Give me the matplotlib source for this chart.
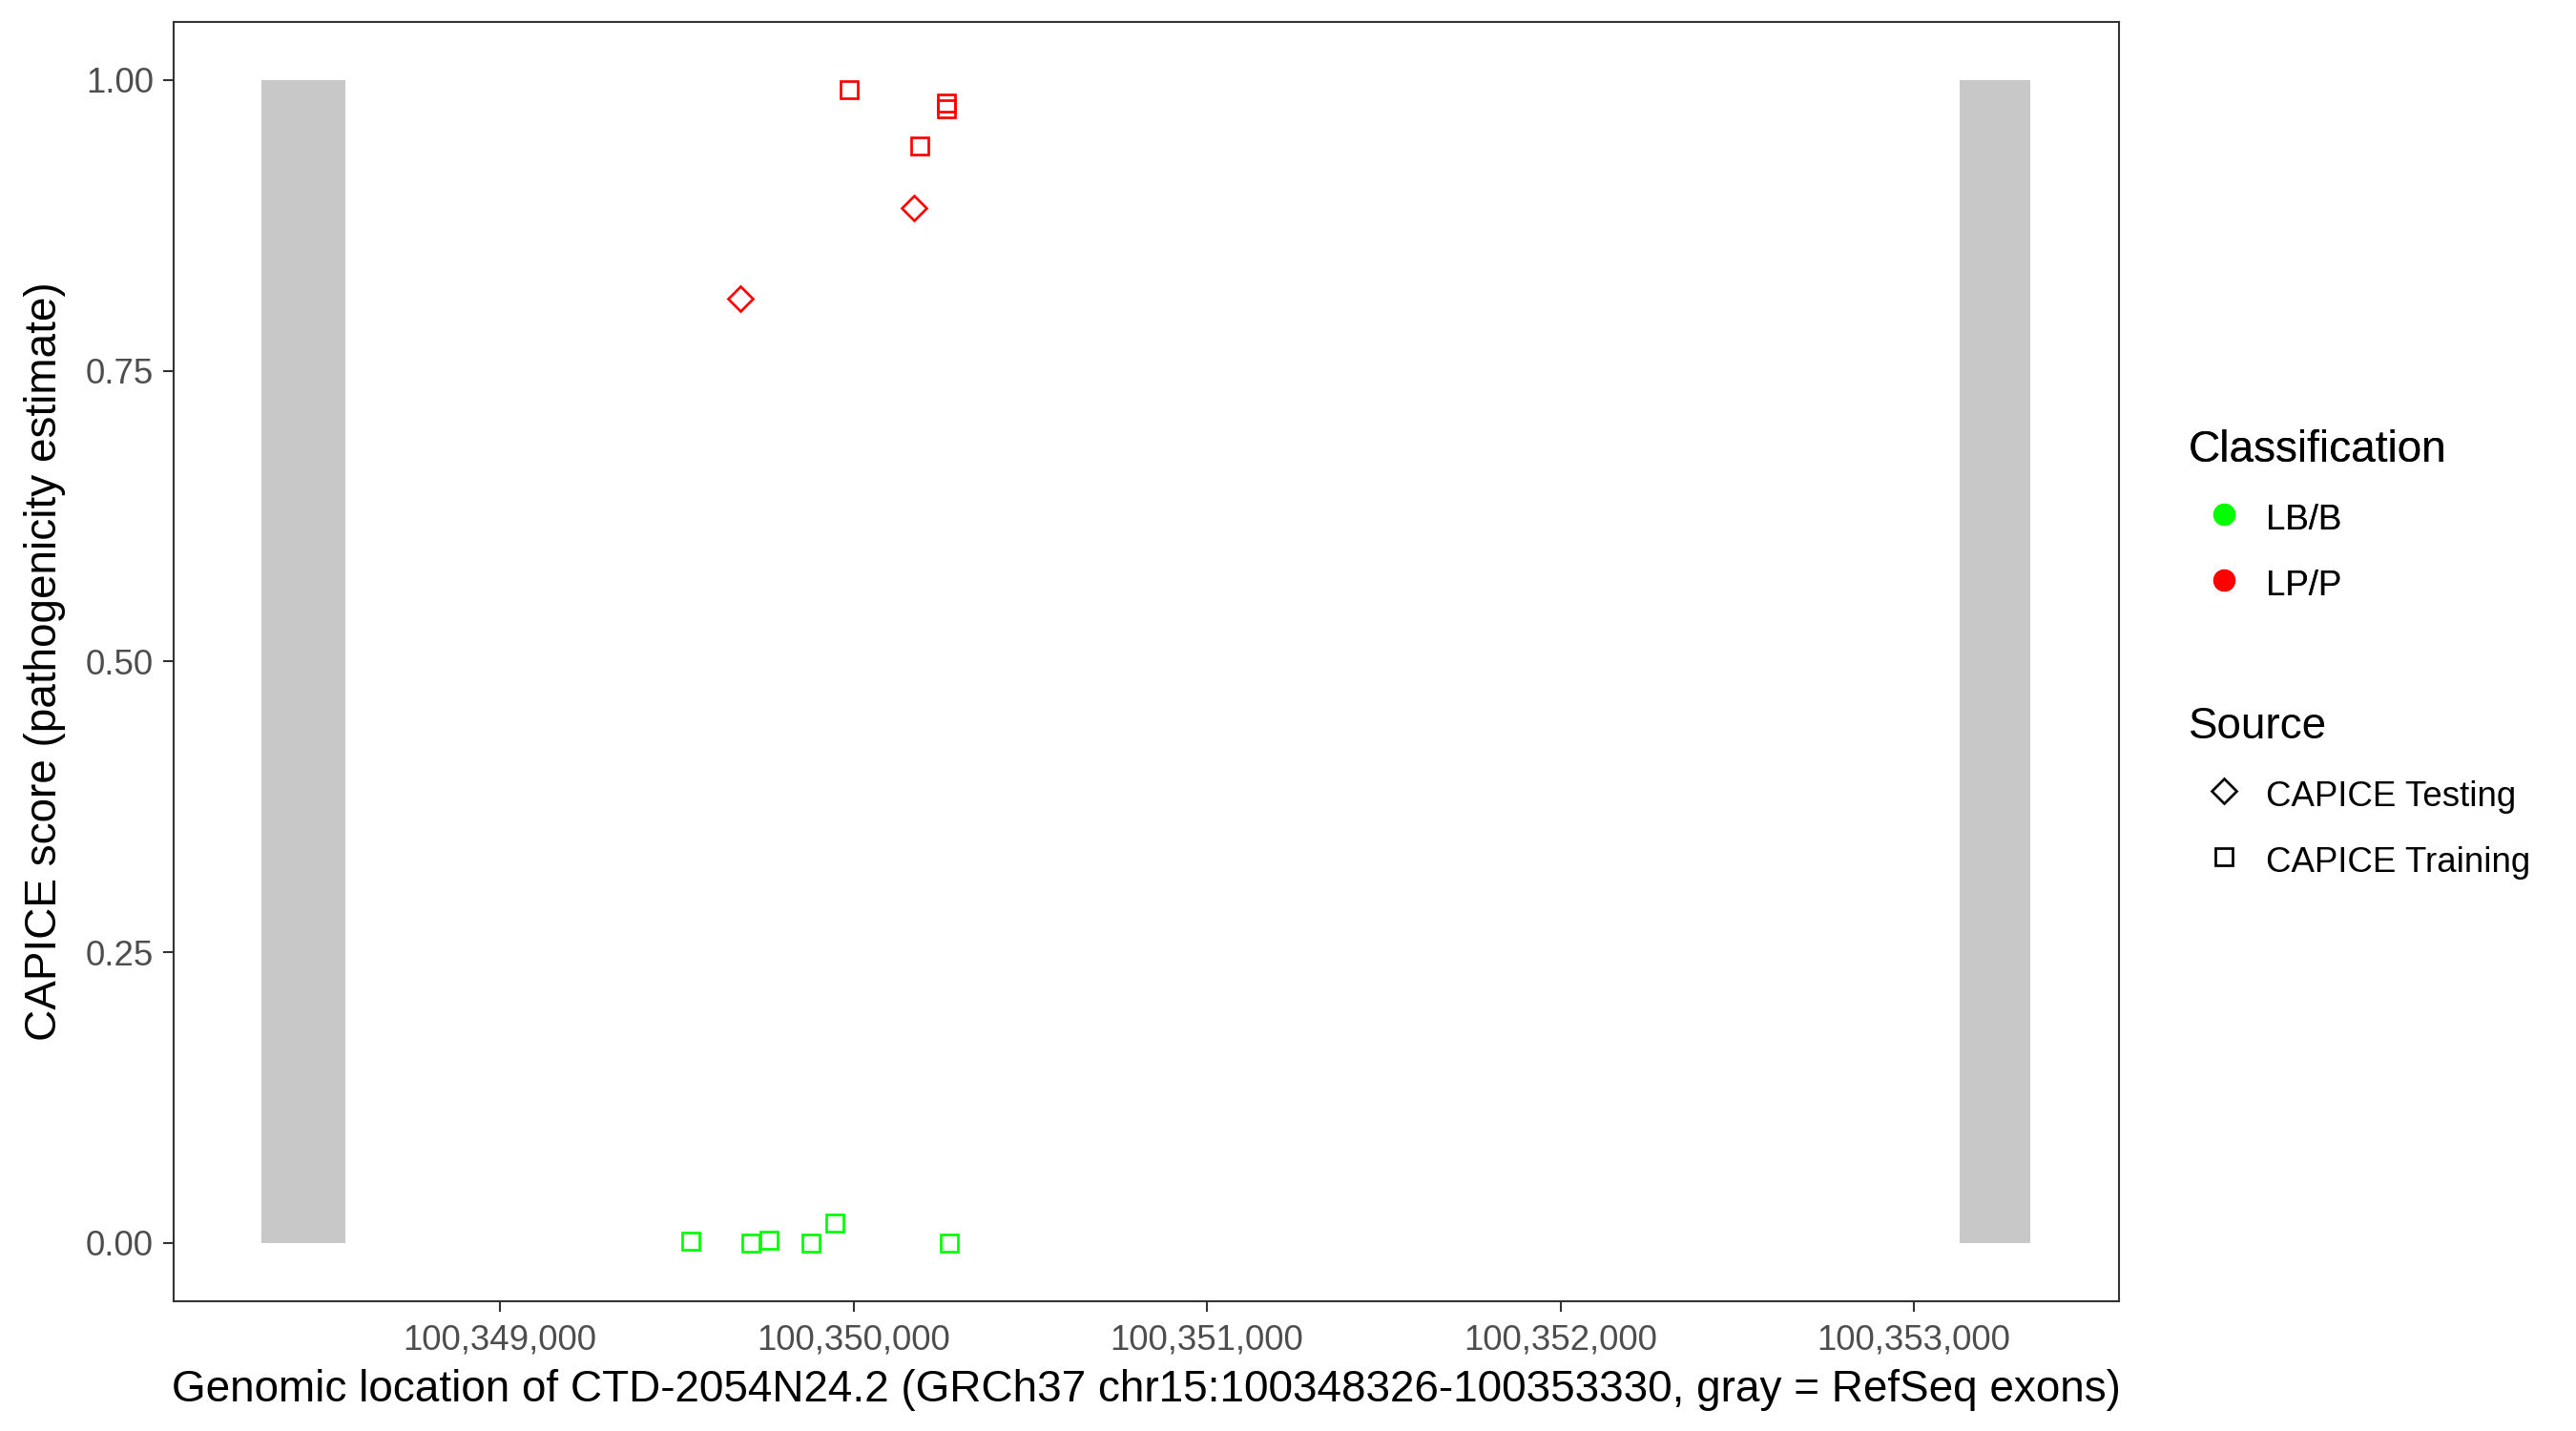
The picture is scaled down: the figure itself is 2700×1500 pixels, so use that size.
import matplotlib.pyplot as plt
from matplotlib.lines import Line2D
from matplotlib.ticker import FuncFormatter

plt.rcParams['font.family'] = ['Liberation Sans', 'DejaVu Sans']

# gene region and exons
gene_start, gene_end = 100348326, 100353330
exon_starts = [100348326, 100353129]
exon_ends = [100348563, 100353330]

# LP/P variants
lp_train_x = [100349987, 100350264, 100350264, 100350186]
lp_train_y = [0.992, 0.980, 0.975, 0.943]
lp_test_x = [100350172, 100349679]
lp_test_y = [0.890, 0.812]

# LB/B variants
lb_train_x = [100349539, 100349709, 100349760, 100349879, 100349946, 100350272]
lb_train_y = [0.0016, 0.0, 0.0025, 0.0, 0.017, 0.0]

green = '#00FF00'
red = '#FF0000'

fig = plt.figure(figsize=(9, 5), dpi=300)
ax = fig.add_axes([0.0673, 0.0907, 0.7553, 0.894])

for s, e in zip(exon_starts, exon_ends):
    ax.fill_between([s, e], 0, 1, color='#C8C8C8', linewidth=0, zorder=1)

ms = 4.3
mew = 0.65
ax.plot(lb_train_x, lb_train_y, 's', ms=ms, mfc='none', mec=green, mew=mew, zorder=3)
ax.plot(lp_train_x, lp_train_y, 's', ms=ms, mfc='none', mec=red, mew=mew, zorder=3)
ax.plot(lp_test_x, lp_test_y, 'D', ms=ms, mfc='none', mec=red, mew=mew, zorder=3)

pad = (gene_end - gene_start) * 0.05
ax.set_xlim(gene_start - pad, gene_end + pad)
ax.set_ylim(-0.05, 1.05)
ax.set_xticks([100349000, 100350000, 100351000, 100352000, 100353000])
ax.xaxis.set_major_formatter(FuncFormatter(lambda v, p: f'{int(v):,}'))
ax.set_yticks([0, 0.25, 0.5, 0.75, 1.0])
ax.set_yticklabels(['0.00', '0.25', '0.50', '0.75', '1.00'])

for sp in ax.spines.values():
    sp.set_color('#333333')
    sp.set_linewidth(0.5)
ax.tick_params(colors='#333333', labelcolor='#4D4D4D', labelsize=8.8, length=2.75, width=0.5, pad=2.2)
ax.tick_params(axis='x', pad=3.0)

ax.set_xlabel('Genomic location of CTD-2054N24.2 (GRCh37 chr15:100348326-100353330, gray = RefSeq exons)',
              fontsize=11, labelpad=3)
ax.set_ylabel('CAPICE score (pathogenicity estimate)', fontsize=11, labelpad=5)

# legends
legend_kw = dict(loc='upper left', frameon=False, fontsize=8.8, title_fontsize=11, alignment='left',
                 borderpad=0, borderaxespad=0, handlelength=2.0, handleheight=1.25,
                 handletextpad=0.2, labelspacing=0.8)
cls_handles = [Line2D([], [], ls='none', marker='o', ms=4.6, mfc=green, mec=green),
               Line2D([], [], ls='none', marker='o', ms=4.6, mfc=red, mec=red)]
leg1 = fig.legend(cls_handles, ['LB/B', 'LP/P'], title='Classification',
                  bbox_to_anchor=(2294 / 2700, 1 - 450 / 1500), **legend_kw)
src_handles = [Line2D([], [], ls='none', marker='D', ms=ms, mfc='none', mec='black', mew=mew),
               Line2D([], [], ls='none', marker='s', ms=ms, mfc='none', mec='black', mew=mew)]
leg2 = fig.legend(src_handles, ['CAPICE Testing', 'CAPICE Training'], title='Source',
                  bbox_to_anchor=(2294 / 2700, 1 - 740 / 1500), **legend_kw)
fig.add_artist(leg1)

fig.savefig('out.png', dpi=300)
